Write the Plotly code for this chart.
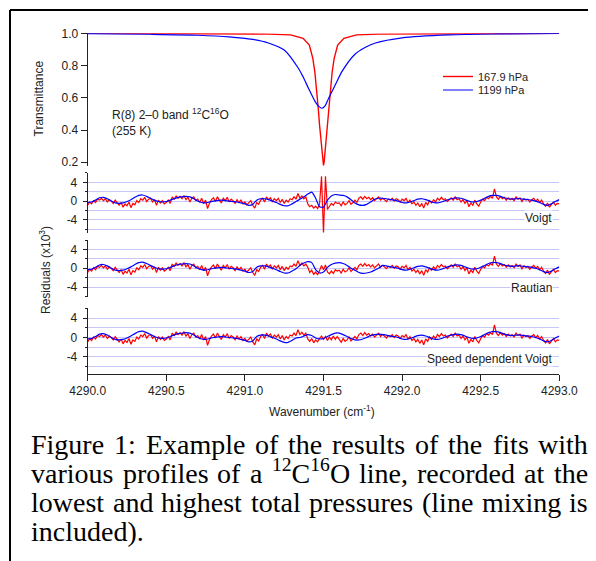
import re
import plotly.graph_objects as go

# the page places the figure 8 px in from the window's top-left corner
OFF = 8
FIG_W, FIG_H = 596 - OFF, 561 - OFF

# ---------------- data ----------------
# Transmittance (top panel)
wn_T_red = [4290.0, 4290.5, 4290.9, 4291.15, 4291.29, 4291.37, 4291.41, 4291.432, 4291.445,
            4291.458, 4291.467, 4291.475, 4291.483, 4291.49, 4291.496, 4291.5, 4291.504,
            4291.51, 4291.517, 4291.525, 4291.533, 4291.542, 4291.555, 4291.568, 4291.59,
            4291.63, 4291.71, 4291.85, 4292.1, 4292.5, 4293.0]
T_red = [1.0, 0.999, 0.997, 0.995, 0.99, 0.969, 0.927, 0.845, 0.76,
         0.637, 0.53, 0.43, 0.34, 0.265, 0.20, 0.18, 0.20,
         0.265, 0.34, 0.43, 0.53, 0.637, 0.76, 0.845, 0.927,
         0.969, 0.99, 0.995, 0.997, 0.999, 1.0]

wn_T_blue = [4290.0, 4290.4, 4290.7, 4290.9, 4291.05, 4291.15, 4291.25, 4291.34, 4291.37,
             4291.405, 4291.448, 4291.47, 4291.49, 4291.51, 4291.532, 4291.58, 4291.617,
             4291.70, 4291.77, 4291.83, 4292.0, 4292.3, 4292.6, 4293.0]
T_blue = [0.998, 0.994, 0.988, 0.978, 0.962, 0.94, 0.896, 0.783, 0.73,
          0.658, 0.575, 0.547, 0.535, 0.55, 0.596, 0.69, 0.762,
          0.87, 0.915, 0.94, 0.972, 0.99, 0.996, 0.999]

series_names = ["167.9 hPa", "1199 hPa"]

# Residuals (x1e3), red = 167.9 hPa, sampled every 0.0125 cm-1 from 4290.0
red_dx = 0.0125
red_resid_left = [  # 4290.0000 .. 4291.3875
    -0.9, -0.2, -0.6, 0.1, -0.3, 0.4, 0.2, 0.6,
    0.1, 0.5, -0.2, 0.3, 0.0, -0.5, 0.2, -0.4,
    -0.9, -0.3, -1.3, -0.6, -1.0, -0.2, -1.4, -0.5,
    -0.8, 0.1, -0.3, 0.5, 0.2, 0.8, -0.1, 0.4,
    0.6, -0.2, 0.3, -0.9, 0.2, -0.4, 0.1, -0.6,
    -0.3, 0.2, -0.5, 0.9, 0.4, 1.1, 0.6, 1.0,
    0.5, 1.2, 0.3, 0.8, -0.2, 0.6, 0.9, 0.1,
    0.4, -0.3, 0.6, -0.5, 0.2, -1.6, -0.4, 0.3,
    0.7, -0.1, 0.9, 0.2, -0.4, 0.6, 0.1, 0.8,
    -0.2, 0.4, 0.1, -0.5, 0.3, -0.3, 0.2, -0.6,
    -0.2, -0.8, -0.4, 0.1, -0.9, -1.5, -0.3, -0.7,
    0.2, 0.6, -0.2, 0.9, 0.3, 0.7, -0.1, 0.5,
    0.1, 0.6, -0.3, 0.4, -0.5, 0.2, -0.2, 0.5,
    0.3, 0.9, 0.4, 1.6, 0.6, 1.1, 0.5, 0.9,
]
red_resid_center_voigt = [-0.6, -1.2, -0.9, -1.5, -1.1, -1.6, -0.6, 5.3,
                          -6.9, 5.3, -1.8, -1.0, -0.5, -0.9, -0.2, -0.5]
red_resid_center_rautian = [0.2, -0.9, -0.4, -1.3, -0.8, -1.4, -0.5, 0.6,
                            -0.3, 0.7, -0.8, -1.2, -0.6, -1.1, -0.3, -0.6]
red_resid_center_sdv = [-0.3, -0.8, -0.2, -1.1, -0.5, -0.9, -0.2, 0.3,
                        -0.4, 0.2, -0.6, 0.1, -0.5, 0.3, -0.4, 0.2]
red_resid_right = [  # 4291.6000 .. 4293.0000
    -0.4, -1.0, -0.2, -0.8, -0.5, 0.1, -0.7, -0.3,
    0.2, -0.3, 0.6, 0.9, 0.4, 1.0, 0.5, 0.8,
    0.3, 0.7, 0.1, 0.5, 0.9, 0.2, 0.6, 0.3,
    -0.1, 0.4, 0.2, 0.6, 0.0, 0.5, 0.3, -0.2,
    0.4, 0.1, 0.6, -0.3, 0.2, -0.6, -0.2, -0.9,
    -0.4, -1.2, -0.5, -1.5, -0.3, -0.8, 0.1, -0.4,
    0.3, -0.2, 0.6, 0.2, 0.8, 0.3, 0.5, -0.1,
    0.4, 0.7, 0.2, 0.9, 0.3, 0.5, -0.2, 0.3,
    -0.5, 0.1, -1.2, -0.4, -0.9, 0.2, -0.6, -1.1,
    -0.2, 0.4, 0.1, 0.8, 0.5, 1.0, 0.6, 2.6,
    0.9, 0.4, 1.0, 0.5, 0.8, 0.2, 0.7, 0.3,
    0.6, 0.1, 0.9, 0.4, 0.7, -0.1, 0.5, 0.2,
    0.4, -0.2, 0.3, 0.6, 0.0, 0.4, -0.3, 0.2,
    -0.6, -1.1, -0.4, -1.3, -0.7, -0.2, -0.9, -0.5,
    -0.6,
]

# Residuals (x1e3), blue = 1199 hPa, sampled every 0.025 cm-1 from 4290.0
blue_dx = 0.025
blue_resid_left = [  # 4290.000 .. 4291.325
    -0.3, -0.2, 0.2, 0.7, 0.8, 0.5, 0.0, -0.4, -0.5, -0.4,
    -0.1, 0.3, 0.8, 1.2, 1.3, 1.0, 0.6, 0.2, -0.1, -0.2,
    -0.1, 0.2, 0.5, 0.8, 0.9, 1.0, 0.9, 0.5, 0.0, -0.3,
    -0.4, -0.2, 0.0, 0.1, 0.2, 0.1, 0.0, -0.1, -0.2, -0.4,
    -0.6, -0.9, -0.7, 0.2, 0.5, 0.5, 0.3, 0.0, -0.3, -0.7,
    -1.0, -1.0, -0.6, -0.1,
]
blue_resid_center_voigt = [0.4, 0.9, 1.5, 1.9, 0.6, -1.2, -1.3, 0.2, 1.1, 1.4, 1.3,
                           1.2, 0.9, 0.3, -0.4, -0.8, -0.9, -0.7, -0.2, 0.4, 0.6]
blue_resid_center_rautian = [0.6, 1.1, 1.4, 1.2, -0.3, -1.0, -0.8, 0.2, 0.8, 1.1, 1.2,
                             1.0, 0.6, 0.0, -0.4, -0.9, -1.1, -1.0, -0.8, -0.4, 0.0]
blue_resid_center_sdv = [0.0, 0.3, 0.6, 0.4, -0.1, -0.3, -0.2, 0.2, 0.6, 0.9, 0.9,
                         0.6, 0.2, -0.2, -0.5, -0.5, -0.3, 0.0, 0.4, 0.6, 0.7]
blue_resid_right = [  # 4291.875 .. 4293.000
    0.6, 0.5, 0.3, 0.2, 0.0, -0.3, -0.4, -0.2, 0.1, 0.4,
    0.5, 0.3, 0.0, -0.3, -0.4, -0.2, 0.1, 0.4, 0.6, 0.7,
    0.6, 0.3, 0.0, -0.2, -0.1, 0.2, 0.6, 1.0, 1.2, 1.2,
    1.0, 0.7, 0.5, 0.4, 0.5, 0.5, 0.4, 0.3, 0.2, 0.0,
    -0.3, -0.7, -0.9, -0.6, -0.1, 0.3,
]

profile_labels = ["Voigt", "Rautian", "Speed dependent Voigt"]
x_ticks = [4290.0, 4290.5, 4291.0, 4291.5, 4292.0, 4292.5, 4293.0]
T_ticks = [0.2, 0.4, 0.6, 0.8, 1.0]
res_major = [-4, 0, 4]
res_minor = [-6, -2, 2, 6]

caption_lines = [
    "Figure 1: Example of the results of the fits with",
    "various profiles of a <sup>12</sup>C<sup>16</sup>O line, recorded at the",
    "lowest and highest total pressures (line mixing is",
    "included).",
]

# ---------------- helpers (window pixel -> paper fraction) ----------------
def px_x(p):
    return (p - OFF) / FIG_W


def px_y(p):
    return 1 - (p - OFF) / FIG_H


RED = "#ff0000"
BLUE = "#0000ff"
GRID = "rgb(198,198,247)"
AX = "#222222"
SANS = "Liberation Sans"

red_sets = [red_resid_left + c + red_resid_right for c in
            (red_resid_center_voigt, red_resid_center_rautian, red_resid_center_sdv)]
blue_sets = [blue_resid_left + c + blue_resid_right for c in
             (blue_resid_center_voigt, blue_resid_center_rautian, blue_resid_center_sdv)]

fig = go.Figure()
fig.add_trace(go.Scatter(x=wn_T_red, y=T_red, mode="lines", name=series_names[0],
                         line=dict(color=RED, width=1.4), xaxis="x", yaxis="y",
                         legend="legend"))
fig.add_trace(go.Scatter(x=wn_T_blue, y=T_blue, mode="lines", name=series_names[1],
                         line=dict(color=BLUE, width=1.2, shape="spline", smoothing=0.8),
                         xaxis="x", yaxis="y", legend="legend2"))
for k in range(3):
    xa = "x%d" % (k + 2)
    ya = "y%d" % (k + 2)
    fig.add_trace(go.Scatter(x0=4290.0, dx=red_dx, y=red_sets[k], mode="lines",
                             line=dict(color=RED, width=1.2), showlegend=False,
                             xaxis=xa, yaxis=ya))
    fig.add_trace(go.Scatter(x0=4290.0, dx=blue_dx, y=blue_sets[k], mode="lines",
                             line=dict(color=BLUE, width=1.2, shape="spline", smoothing=0.6),
                             showlegend=False, xaxis=xa, yaxis=ya))

XD = [px_x(87.7), px_x(559.3)]
hidden_x = dict(domain=XD, range=[4290, 4293], showticklabels=False, ticks="",
                showline=False, showgrid=False, zeroline=False, automargin=False)

panel_px = [(172.7, 232.5, [-6.7, 6.05]), (240.0, 297.0, [-6.1, 6.0]), (308.3, 374.0, [-7.5, 6.0])]

leg_common = dict(xanchor="left", yanchor="top", font=dict(family=SANS, size=11, color=AX),
                  bgcolor="rgba(0,0,0,0)", itemwidth=30, tracegroupgap=0)

layout = dict(
    width=FIG_W, height=FIG_H, margin=dict(l=0, r=0, t=0, b=0, autoexpand=False),
    paper_bgcolor="white", plot_bgcolor="white",
    font=dict(family=SANS, size=12, color=AX),
    showlegend=True,
    legend=dict(leg_common, x=px_x(438), y=px_y(62)),
    legend2=dict(leg_common, x=px_x(438), y=px_y(75.5)),
    xaxis=dict(hidden_x, anchor="y"),
    yaxis=dict(domain=[px_y(166.3), px_y(33.3)], range=[0.175, 1.0], anchor="x",
               tickvals=T_ticks, ticktext=["%.1f" % v for v in T_ticks],
               ticks="outside", ticklen=6, tickcolor=AX, showline=True, linecolor=AX,
               linewidth=1, showgrid=False, zeroline=False, automargin=False,
               tickfont=dict(family=SANS, size=12, color=AX)),
)
for k, (top, bot, rng) in enumerate(panel_px):
    n = k + 2
    xa = dict(hidden_x, anchor="y%d" % n, matches="x")
    if k == 2:
        xa.update(showticklabels=True, ticks="outside", ticklen=6, tickcolor=AX,
                  showline=True, linecolor=AX, linewidth=1,
                  tickvals=x_ticks, ticktext=["%.1f" % v for v in x_ticks],
                  tickfont=dict(family=SANS, size=12, color=AX))
    layout["xaxis%d" % n] = xa
    layout["yaxis%d" % n] = dict(
        domain=[px_y(bot), px_y(top)], range=rng, anchor="x%d" % n,
        tickvals=res_major, ticktext=[str(v) for v in res_major],
        ticks="outside", ticklen=4, tickcolor=AX, ticklabelstandoff=3,
        showline=True, linecolor=AX, linewidth=1, automargin=False,
        showgrid=True, gridcolor=GRID, gridwidth=1.3, zeroline=False,
        minor=dict(tickvals=res_minor, ticks="outside", ticklen=2, tickcolor=AX,
                   showgrid=True, gridcolor=GRID, gridwidth=1.3),
        tickfont=dict(family=SANS, size=12, color=AX),
    )
fig.update_layout(**layout)

ann = []


def add_text(text, x, y, xanchor="center", yanchor="middle", **kw):
    d = dict(text=text, x=px_x(x), y=px_y(y), xanchor=xanchor, yanchor=yanchor,
             xref="paper", yref="paper", showarrow=False)
    d.setdefault("font", dict(family=SANS, size=12, color=AX))
    d.update(kw)
    ann.append(d)


add_text("Transmittance", 38.5, 99, textangle=-90)
add_text("Residuals (x10<sup>3</sup>)", 45, 270, textangle=-90)
add_text("Wavenumber (cm<sup>-1</sup>)", 322, 411)
add_text("R(8) 2\u20130 band <sup>12</sup>C<sup>16</sup>O<br>(255 K)", 110, 122,
         xanchor="left", align="left")
for lbl, ypx in zip(profile_labels, [218.3, 287.7, 359.3]):
    add_text(lbl, 553, ypx, xanchor="right", bgcolor="white", borderpad=0)

# caption (justified like the source by placing words along each line)
TNR = {' ': 250, 'F': 556, 'i': 278, 'g': 500, 'u': 500, 'r': 333, 'e': 444, '1': 500,
       ':': 278, 'E': 611, 'x': 500, 'a': 444, 'm': 778, 'p': 500, 'l': 278, 'o': 500,
       'f': 333, 't': 278, 'h': 500, 's': 389, 'w': 722, 'v': 500, 'n': 500, ',': 250,
       'c': 444, 'd': 500, 'C': 667, 'O': 722, '(': 333, ')': 333, '.': 250, '2': 500,
       '6': 500, 'b': 500}
CAP_FS = 28


def text_w(s):
    tot = 0.0
    for sup, plain in re.findall(r'<sup>(.*?)</sup>|([^<]+)', s):
        if sup:
            tot += sum(TNR.get(c, 500) for c in sup) * 0.7
        else:
            tot += sum(TNR.get(c, 500) for c in plain)
    return tot * CAP_FS / 1000.0


cap_left, cap_right = 30.0, 587.0
baselines = [455, 484, 513, 542]
cfont = dict(family="Liberation Serif", size=CAP_FS, color="black")
for li, line in enumerate(caption_lines):
    ybot = baselines[li] + 6
    if li == len(caption_lines) - 1:
        add_text(line, cap_left, ybot, xanchor="left", yanchor="bottom", font=cfont,
                 borderpad=0)
        continue
    words = line.split(" ")
    widths = [text_w(w) for w in words]
    gap = (cap_right - cap_left - sum(widths)) / (len(words) - 1)
    xpos = cap_left
    for w, wd in zip(words, widths):
        add_text(w, xpos, ybot, xanchor="left", yanchor="bottom", font=cfont, borderpad=0)
        xpos += wd + gap

fig.update_layout(annotations=ann)

fig.update_layout(shapes=[
    dict(type="line", xref="paper", yref="paper", x0=px_x(10), x1=1.0, y0=px_y(10), y1=px_y(10),
         line=dict(color="black", width=2)),
    dict(type="line", xref="paper", yref="paper", x0=px_x(10), x1=px_x(10), y0=px_y(10), y1=0.0,
         line=dict(color="black", width=2)),
])

fig.write_html("out.html")
